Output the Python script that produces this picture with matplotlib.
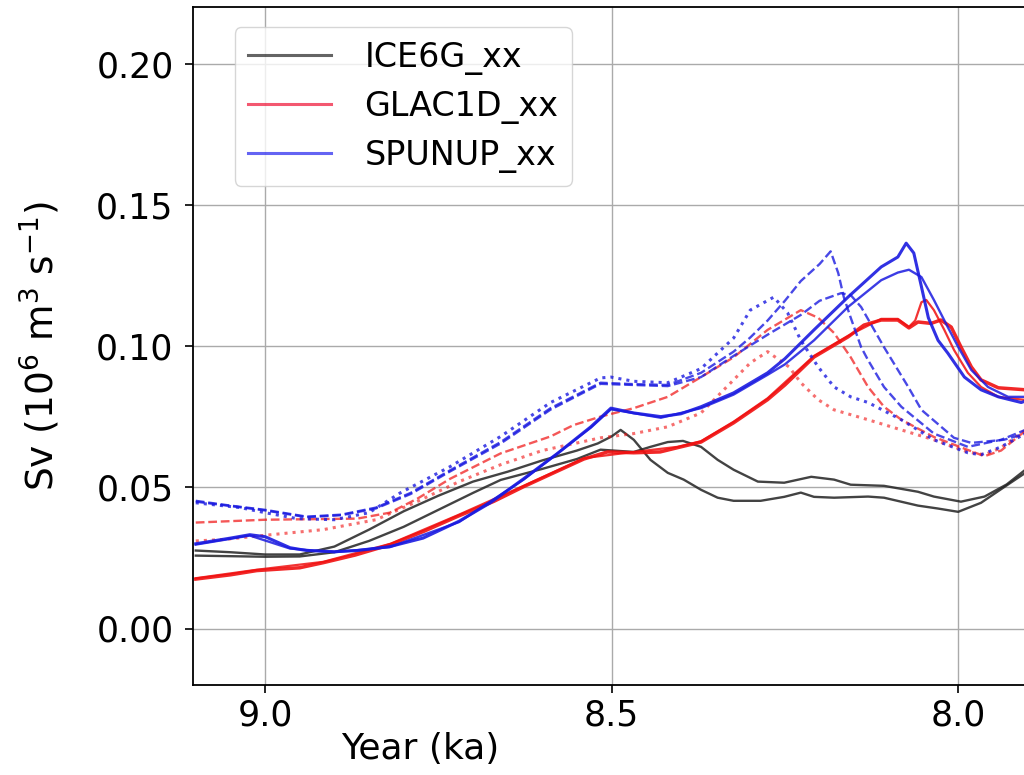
import matplotlib
matplotlib.use("Agg")
import matplotlib.pyplot as plt
from matplotlib.lines import Line2D

plt.rcParams["font.family"] = ["DejaVu Sans"]

# ---- data (x in ka, y in Sv) ----
ice_a_x = [9.10, 9.05, 9.00, 8.95, 8.90, 8.85, 8.80, 8.75, 8.70, 8.65, 8.60, 8.55, 8.52, 8.50,
           8.487, 8.468, 8.444, 8.419, 8.396, 8.371, 8.347, 8.324, 8.285, 8.251, 8.227, 8.208,
           8.179, 8.13, 8.107, 8.058, 8.03, 8.00, 7.967, 7.94, 7.903]
ice_a_y = [0.0276, 0.027, 0.0262, 0.0262, 0.029, 0.035, 0.0415, 0.047, 0.052, 0.0555, 0.0595, 0.063,
           0.0655, 0.068, 0.0703, 0.0668, 0.0597, 0.0551, 0.0527, 0.0491, 0.0463, 0.0452, 0.0452,
           0.0466, 0.0481, 0.0466, 0.0463, 0.0467, 0.0463, 0.0435, 0.0425, 0.0413, 0.0445, 0.049, 0.0551]

ice_b_x = [9.10, 9.05, 9.00, 8.95, 8.90, 8.85, 8.80, 8.75, 8.70, 8.66, 8.60, 8.55, 8.516, 8.468,
           8.444, 8.419, 8.397, 8.371, 8.347, 8.324, 8.289, 8.251, 8.212, 8.179, 8.155, 8.107,
           8.058, 8.035, 7.996, 7.962, 7.93, 7.903]
ice_b_y = [0.0258, 0.0256, 0.0254, 0.0255, 0.027, 0.031, 0.036, 0.042, 0.048, 0.0526, 0.0565, 0.06,
           0.0633, 0.0625, 0.0643, 0.066, 0.0664, 0.0643, 0.0597, 0.0562, 0.052, 0.0516, 0.0537,
           0.0527, 0.0509, 0.0505, 0.0484, 0.0467, 0.0449, 0.0467, 0.051, 0.0562]

glac_a_x = [9.10, 9.05, 9.012, 8.95, 8.916, 8.87, 8.819, 8.77, 8.723, 8.67, 8.627, 8.58, 8.54,
            8.506, 8.468, 8.43, 8.405, 8.371, 8.324, 8.275, 8.25, 8.208, 8.159, 8.136, 8.111,
            8.087, 8.071, 8.058, 8.039, 8.025, 8.01, 7.996, 7.981, 7.967, 7.942, 7.903]
glac_a_y = [0.0175, 0.019, 0.0205, 0.0215, 0.0233, 0.026, 0.0297, 0.0345, 0.0396, 0.045, 0.0502,
            0.0555, 0.060, 0.0625, 0.0622, 0.0625, 0.064, 0.066, 0.0728, 0.081, 0.0862, 0.0961,
            0.1032, 0.1074, 0.1092, 0.1092, 0.1064, 0.1085, 0.108, 0.1092, 0.1067, 0.0997, 0.0926,
            0.088, 0.0852, 0.0845]

glac_b_x = [9.10, 9.012, 8.916, 8.819, 8.723, 8.627, 8.54, 8.468, 8.405, 8.371, 8.324, 8.275,
            8.208, 8.159, 8.111, 8.087, 8.071, 8.062, 8.053, 8.046, 8.035, 8.02, 8.006, 7.986,
            7.967, 7.942, 7.903]
glac_b_y = [0.0178, 0.0208, 0.0236, 0.030, 0.040, 0.0505, 0.0603, 0.0625, 0.0643, 0.0663, 0.0732,
            0.0815, 0.0965, 0.1036, 0.1096, 0.1096, 0.1068, 0.109, 0.1155, 0.1163, 0.1127, 0.1057,
            0.0986, 0.0905, 0.0855, 0.082, 0.0809]

glac_dash_x = [9.10, 9.00, 8.867, 8.82, 8.78, 8.733, 8.66, 8.588, 8.555, 8.516, 8.468, 8.419,
               8.371, 8.324, 8.275, 8.227, 8.202, 8.179, 8.155, 8.13, 8.107, 8.082, 8.035, 7.986,
               7.962, 7.938, 7.903]
glac_dash_y = [0.0375, 0.0385, 0.0389, 0.041, 0.046, 0.053, 0.062, 0.068, 0.072, 0.075, 0.078,
               0.082, 0.089, 0.096, 0.1057, 0.1127, 0.110, 0.1046, 0.096, 0.0855, 0.0785, 0.0739,
               0.0678, 0.0632, 0.061, 0.063, 0.070]

glac_dot_x = [9.10, 9.06, 9.00, 8.916, 8.84, 8.78, 8.72, 8.66, 8.60, 8.516, 8.468, 8.419, 8.371,
              8.324, 8.30, 8.275, 8.244, 8.227, 8.202, 8.179, 8.13, 8.082, 8.035, 7.986, 7.962,
              7.938, 7.903]
glac_dot_y = [0.031, 0.0315, 0.033, 0.035, 0.0385, 0.045, 0.052, 0.058, 0.063, 0.0675, 0.069,
              0.0714, 0.0763, 0.088, 0.094, 0.098, 0.0926, 0.087, 0.081, 0.0774, 0.0739, 0.0703,
              0.0668, 0.0625, 0.0615, 0.064, 0.0703]

spun_a_x = [9.10, 9.05, 9.022, 9.00, 8.964, 8.94, 8.90, 8.867, 8.82, 8.772, 8.72, 8.675, 8.627,
            8.578, 8.53, 8.501, 8.468, 8.429, 8.40, 8.371, 8.324, 8.275, 8.25, 8.208, 8.159,
            8.111, 8.087, 8.075, 8.064, 8.053, 8.043, 8.029, 8.015, 7.991, 7.967, 7.942, 7.909, 7.903]
spun_a_y = [0.030, 0.032, 0.0332, 0.0325, 0.0286, 0.0276, 0.0272, 0.0276, 0.029, 0.032, 0.038,
            0.0445, 0.053, 0.062, 0.0714, 0.078, 0.0763, 0.075, 0.076, 0.0785, 0.0834, 0.0905,
            0.0955, 0.1057, 0.1173, 0.128, 0.1315, 0.1364, 0.1329, 0.121, 0.110, 0.102, 0.0975,
            0.089, 0.0845, 0.082, 0.080, 0.0805]

spun_b_x = [9.10, 9.022, 8.964, 8.90, 8.82, 8.72, 8.627, 8.53, 8.501, 8.429, 8.371, 8.324, 8.275,
            8.25, 8.208, 8.159, 8.111, 8.087, 8.071, 8.053, 8.035, 8.015, 8.00, 7.981, 7.957,
            7.928, 7.903]
spun_b_y = [0.0297, 0.0329, 0.0283, 0.0270, 0.0288, 0.0377, 0.0527, 0.0711, 0.0776, 0.0746,
            0.078, 0.0828, 0.0898, 0.0935, 0.102, 0.1138, 0.1233, 0.126, 0.127, 0.1244, 0.1163,
            0.1067, 0.0997, 0.0915, 0.0855, 0.082, 0.082]

spun_dash_a_x = [9.10, 9.05, 9.00, 8.94, 8.89, 8.84, 8.79, 8.733, 8.66, 8.588, 8.516, 8.468,
                 8.419, 8.371, 8.324, 8.30, 8.275, 8.25, 8.227, 8.20, 8.184, 8.173, 8.165, 8.155,
                 8.14, 8.13, 8.107, 8.082, 8.035, 7.986, 7.938, 7.903]
spun_dash_a_y = [0.0452, 0.0435, 0.042, 0.0396, 0.0403, 0.0428, 0.048, 0.056, 0.066, 0.078, 0.087,
                 0.0865, 0.0862, 0.0905, 0.098, 0.103, 0.109, 0.116, 0.123, 0.129, 0.1335, 0.1258,
                 0.1173, 0.110, 0.0996, 0.095, 0.0855, 0.0785, 0.069, 0.0643, 0.0668, 0.0703]

spun_dash_b_x = [9.10, 9.00, 8.94, 8.89, 8.84, 8.79, 8.733, 8.66, 8.588, 8.516, 8.468, 8.419,
                 8.371, 8.324, 8.275, 8.227, 8.20, 8.169, 8.155, 8.14, 8.107, 8.072, 8.053, 8.006,
                 7.981, 7.934, 7.903]
spun_dash_b_y = [0.0449, 0.0418, 0.0394, 0.0401, 0.0425, 0.0476, 0.0556, 0.0655, 0.0775, 0.0866,
                 0.0862, 0.0858, 0.089, 0.0965, 0.104, 0.111, 0.116, 0.1187, 0.118, 0.1138, 0.0996,
                 0.0855, 0.0774, 0.0675, 0.0657, 0.0668, 0.069]

spun_dot_x = [9.10, 9.036, 9.00, 8.954, 8.90, 8.85, 8.805, 8.733, 8.66, 8.588, 8.516, 8.501,
              8.468, 8.419, 8.371, 8.324, 8.30, 8.266, 8.246, 8.227, 8.202, 8.179, 8.155, 8.13,
              8.082, 8.035, 7.986, 7.967, 7.938, 7.903]
spun_dot_y = [0.0445, 0.0428, 0.041, 0.0389, 0.0385, 0.041, 0.048, 0.0573, 0.068, 0.080, 0.0887,
              0.089, 0.0875, 0.087, 0.092, 0.1028, 0.1127, 0.1173, 0.1117, 0.102, 0.0926, 0.0855,
              0.082, 0.080, 0.0739, 0.0668, 0.0622, 0.0615, 0.0643, 0.069]

legend_labels = ["ICE6G_xx", "GLAC1D_xx", "SPUNUP_xx"]

BLACK = "#222222"; RED = "#f01010"; BLUE = "#1a1ae0"

fig = plt.figure(figsize=(10.24, 7.75), dpi=100)
ax = fig.add_axes([193 / 1024, 90 / 775, 831 / 1024, 678 / 775])

ax.plot(ice_a_x, ice_a_y, color=BLACK, lw=1.7, alpha=0.85)
ax.plot(ice_b_x, ice_b_y, color=BLACK, lw=1.7, alpha=0.85)

ax.plot(glac_dot_x, glac_dot_y, color=RED, lw=2.2, ls=":", alpha=0.6)
ax.plot(glac_dash_x, glac_dash_y, color=RED, lw=1.7, ls="--", alpha=0.7)
ax.plot(glac_b_x, glac_b_y, color=RED, lw=1.6, alpha=0.85)
ax.plot(glac_a_x, glac_a_y, color=RED, lw=2.5, alpha=0.9)

ax.plot(spun_dot_x, spun_dot_y, color=BLUE, lw=2.2, ls=":", alpha=0.8)
ax.plot(spun_dash_b_x, spun_dash_b_y, color=BLUE, lw=1.7, ls="--", alpha=0.8)
ax.plot(spun_dash_a_x, spun_dash_a_y, color=BLUE, lw=1.7, ls="--", alpha=0.8)
ax.plot(spun_b_x, spun_b_y, color=BLUE, lw=1.7, alpha=0.85)
ax.plot(spun_a_x, spun_a_y, color=BLUE, lw=2.2, alpha=0.9)

ax.set_xlim(9.104, 7.905)
ax.set_ylim(-0.02, 0.22)
ax.set_xticks([9.0, 8.5, 8.0])
ax.set_yticks([0.00, 0.05, 0.10, 0.15, 0.20])
ax.set_yticklabels(["0.00", "0.05", "0.10", "0.15", "0.20"])
ax.tick_params(labelsize=25, length=6, width=1.2)
ax.tick_params(axis="y", pad=8)
ax.grid(True, color="#aaaaaa", lw=1.0)
ax.spines["right"].set_visible(False)
for s in ["left", "bottom", "top"]:
    ax.spines[s].set_linewidth(1.3)

ax.set_xlabel("Year (ka)", fontsize=26, x=0.273, labelpad=0)
ax.set_ylabel("Sv (10$^6$ m$^3$ s$^{-1}$)", fontsize=27)
ax.yaxis.set_label_coords(-0.158, 0.5)

handles = [Line2D([], [], color=c, lw=2.2, alpha=0.7) for c in ["#222222", "#ee1133", "#2222ee"]]
ax.legend(handles, legend_labels, loc="upper left", bbox_to_anchor=(0.05, 0.97),
          borderaxespad=0, fontsize=24, handlelength=2.5, handletextpad=1.0,
          labelspacing=0.45, framealpha=0.8)

fig.savefig("out.png", dpi=100, facecolor="white")
